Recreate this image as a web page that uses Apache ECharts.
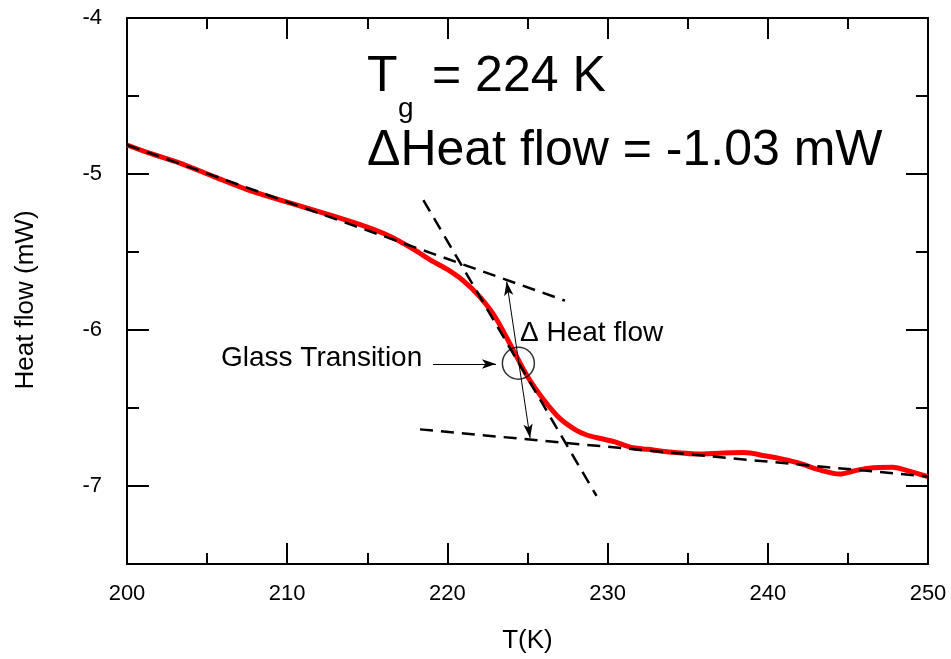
<!DOCTYPE html>
<html>
<head>
<meta charset="utf-8">
<script src="https://cdn.jsdelivr.net/npm/echarts@6/dist/echarts.min.js"></script>
<style>
  html, body { margin: 0; padding: 0; background: #fff; }
  #chart { width: 951px; height: 659px; }
</style>
</head>
<body>
<div id="chart"></div>
<script>
// DSC trace: T (K) and heat flow (mW)
const temps = [200.0, 201.5, 203.3, 205.5, 207.5, 210.0, 212.9, 215.0, 216.0, 217.0,
  218.0, 219.0, 220.0, 221.0, 222.0, 223.0, 224.0, 225.0, 226.0, 227.0,
  228.0, 228.7, 229.5, 230.4, 231.6, 232.5, 233.7, 235.8, 237.0, 238.5,
  239.9, 241.0, 242.0, 243.0, 244.1, 244.5, 245.3, 246.2, 247.8, 248.5, 250.0];
const heatFlow = [-4.814, -4.87, -4.93, -5.02, -5.10, -5.18, -5.27, -5.34, -5.38, -5.43,
  -5.49, -5.555, -5.612, -5.685, -5.785, -5.92, -6.108, -6.298, -6.445, -6.565,
  -6.64, -6.673, -6.694, -6.716, -6.755, -6.765, -6.78, -6.795, -6.79, -6.786,
  -6.808, -6.83, -6.855, -6.89, -6.919, -6.923, -6.905, -6.887, -6.88, -6.895, -6.94];

// tangent lines (dashed)
const upperBase = [[200, -4.814], [227.34, -5.812]];
const lowerBase = [[218.29, -6.637], [250, -6.939]];
const steepTangent = [[218.5, -5.167], [229.31, -7.064]];

// annotations
const tgPoint = [224.43, -6.213];
const deltaArrow = [[223.70, -5.690], [225.16, -6.692]];
const deltaBar = [[224.89, -6.70], [225.57, -6.70]];
const glassArrow = [[219.10, -6.218], [223.03, -6.218]];

const xTickLabels = [200, 210, 220, 230, 240, 250];
const yTickLabels = [-7, -6, -5, -4];

const FONT = '"Liberation Sans", Arial, sans-serif';
const black = '#000';

const chart = echarts.init(document.getElementById('chart'), null, { renderer: 'canvas' });

function xAx(pos, showLabel) {
  return {
    type: 'value', position: pos, min: 200, max: 250, interval: 10,
    axisLine: { show: true, onZero: false, lineStyle: { color: black, width: 2 } },
    axisTick: { show: true, inside: true, length: 21, lineStyle: { color: black, width: 2 } },
    minorTick: { show: true, splitNumber: 2, length: 11, lineStyle: { color: black, width: 2 } },
    axisLabel: {
      show: showLabel, customValues: xTickLabels, margin: 19,
      fontSize: 22, color: black, fontFamily: FONT
    },
    splitLine: { show: false },
    minorSplitLine: { show: false },
    name: showLabel ? 'T(K)' : '',
    nameLocation: 'middle', nameGap: 64,
    nameTextStyle: { fontSize: 26, color: black, fontFamily: FONT }
  };
}

function yAx(pos, major, showLabel) {
  return {
    type: 'value', position: pos, min: -7.5, max: -4, interval: 0.5,
    axisLine: { show: !major, onZero: false, lineStyle: { color: black, width: 2 } },
    axisTick: major
      ? { show: true, inside: true, length: 22, customValues: yTickLabels, lineStyle: { color: black, width: 2 } }
      : { show: true, inside: true, length: 12, lineStyle: { color: black, width: 2 } },
    axisLabel: {
      show: showLabel, customValues: yTickLabels, margin: 25,
      fontSize: 22, color: black, fontFamily: FONT
    },
    splitLine: { show: false },
    name: showLabel ? 'Heat flow (mW)' : '',
    nameLocation: 'middle', nameGap: 88, nameRotate: 90,
    nameTextStyle: { fontSize: 26, color: black, fontFamily: FONT, padding: [0, 18, 0, 0] }
  };
}

function dashed(data) {
  return {
    type: 'line', data: data, symbol: 'none', z: 5, silent: true,
    lineStyle: { color: black, width: 2.5, type: [13, 8] }
  };
}

chart.setOption({
  animation: false,
  backgroundColor: '#fff',
  grid: { left: 127, right: 23, top: 18, bottom: 95, containLabel: false },
  xAxis: [xAx('bottom', true), xAx('top', false)],
  yAxis: [yAx('left', false, true), yAx('left', true, false), yAx('right', false, false), yAx('right', true, false)],
  series: [
    {
      type: 'line', name: 'Heat flow', z: 3,
      data: temps.map((t, i) => [t, heatFlow[i]]),
      symbol: 'none', smooth: 0.3,
      lineStyle: { color: '#ff0000', width: 5 },
      markLine: {
        silent: true, animation: false,
        label: { show: false },
        lineStyle: { color: black, width: 1, type: 'solid' },
        symbolSize: [7, 14],
        data: [
          [{ coord: deltaArrow[0], symbol: 'arrow' }, { coord: deltaArrow[1], symbol: 'arrow' }],
          [{ coord: deltaBar[0], symbol: 'none' }, { coord: deltaBar[1], symbol: 'none' }],
          [{ coord: glassArrow[0], symbol: 'none' }, { coord: glassArrow[1], symbol: 'arrow' }]
        ]
      }
    },
    dashed(upperBase),
    dashed(lowerBase),
    dashed(steepTangent),
    {
      type: 'scatter', data: [tgPoint], z: 6, silent: true,
      symbol: 'circle', symbolSize: 32,
      itemStyle: { color: 'rgba(0,0,0,0)', borderColor: black, borderWidth: 1.5 }
    }
  ],
  graphic: [
    { type: 'text', left: 367, top: 52, style: { text: 'T', fontSize: 50, fontFamily: FONT, fill: black } },
    { type: 'text', left: 398, top: 95, style: { text: 'g', fontSize: 28, fontFamily: FONT, fill: black } },
    { type: 'text', left: 432, top: 52, style: { text: '= 224 K', fontSize: 50, fontFamily: FONT, fill: black } },
    { type: 'text', left: 367, top: 126, style: { text: 'ΔHeat flow = -1.03 mW', fontSize: 50, fontFamily: FONT, fill: black } },
    { type: 'text', left: 221, top: 344, style: { text: 'Glass Transition', fontSize: 28, fontFamily: FONT, fill: black } },
    { type: 'text', left: 520, top: 319, style: { text: 'Δ Heat flow', fontSize: 28, fontFamily: FONT, fill: black } }
  ]
});
</script>
</body>
</html>
